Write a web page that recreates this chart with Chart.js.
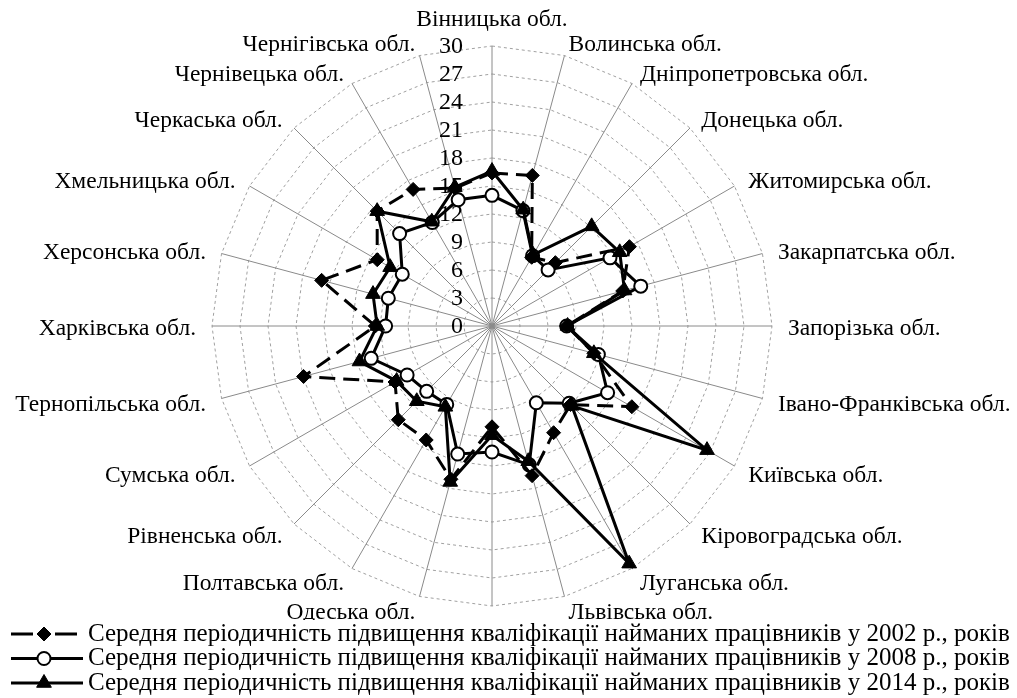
<!DOCTYPE html>
<html lang="uk">
<head>
<meta charset="utf-8">
<title>Середня періодичність підвищення кваліфікації найманих працівників</title>
<script src="https://cdn.jsdelivr.net/npm/chart.js@4.4.1/dist/chart.umd.min.js"></script>
<style>
    html, body { margin: 0; padding: 0; background: #ffffff; }
    #wrap { width: 1017px; height: 698px; position: relative; }
</style>
</head>
<body>
<div id="wrap"><canvas id="radarChart" width="1017" height="698"></canvas></div>
<script>
// Categories (clockwise from the top)
const regions = [
    'Вінницька обл.', 'Волинська обл.', 'Дніпропетровська обл.', 'Донецька обл.',
    'Житомирська обл.', 'Закарпатська обл.', 'Запорізька обл.', 'Івано-Франківська обл.',
    'Київська обл.', 'Кіровоградська обл.', 'Луганська обл.', 'Львівська обл.',
    'Миколаївська обл.', 'Одеська обл.', 'Полтавська обл.', 'Рівненська обл.',
    'Сумська обл.', 'Тернопільська обл.', 'Харківська обл.', 'Херсонська обл.',
    'Хмельницька обл.', 'Черкаська обл.', 'Чернівецька обл.', 'Чернігівська обл.'
];

const seriesNames = [
    'Середня періодичність підвищення кваліфікації найманих працівників у 2002 р., років',
    'Середня періодичність підвищення кваліфікації найманих працівників у 2008 р., років',
    'Середня періодичність підвищення кваліфікації найманих працівників у 2014 р., років'
];

const values2002 = [16.4, 16.7, 8.5, 9.6, 17.0, 14.5, 8.0, 11.3, 17.3, 11.9, 13.2, 16.6,
                    10.8, 17.0, 14.1, 14.2, 12.0, 20.9, 12.5, 18.9, 14.2, 17.4, 16.9, 15.3];
const values2008 = [14.0, 12.8, 8.7, 8.5, 14.6, 16.5, 8.0, 11.8, 14.3, 11.7, 9.5, 15.4,
                    13.5, 14.2, 9.7, 9.9, 10.5, 13.4, 11.4, 11.5, 11.1, 14.0, 12.8, 14.0];
const values2014 = [16.6, 12.9, 8.8, 15.1, 15.8, 14.7, 8.1, 11.3, 26.6, 12.1, 29.4, 15.0,
                    11.7, 17.3, 10.0, 11.4, 11.8, 14.7, 12.3, 13.2, 12.6, 17.4, 12.9, 15.4];

const tickValues = [0, 3, 6, 9, 12, 15, 18, 21, 24, 27, 30];

const serif = "'Liberation Serif', 'Times New Roman', serif";

// Value labels to the left of the vertical axis
const tickLabelPlugin = {
    id: 'tickLabels',
    beforeDatasetsDraw(chart) {
        const scale = chart.scales.r;
        const ctx = chart.ctx;
        ctx.save();
        ctx.font = '24px ' + serif;
        ctx.fillStyle = '#000000';
        ctx.textAlign = 'right';
        ctx.textBaseline = 'middle';
        tickValues.forEach(v => {
            const d = scale.getDistanceFromCenterForValue(v);
            ctx.fillText(String(v), scale.xCenter - 29, scale.yCenter - d + 1);
        });
        ctx.restore();
    }
};

// Region names round the outer ring
const regionLabelPlugin = {
    id: 'regionLabels',
    afterDatasetsDraw(chart) {
        const scale = chart.scales.r;
        const ctx = chart.ctx;
        const n = chart.data.labels.length;
        ctx.save();
        ctx.font = '23.5px ' + serif;
        ctx.fillStyle = '#000000';
        ctx.textBaseline = 'middle';
        chart.data.labels.forEach((label, i) => {
            const angle = 2 * Math.PI * i / n;
            const s = Math.sin(angle);
            const c = Math.cos(angle);
            const p = scale.getPointPosition(i, scale.drawingArea);
            let x = p.x + 16 * s;
            let y = p.y - 14 * c + 3;
            if (Math.abs(s) < 0.01) {
                ctx.textAlign = 'center';
                x = p.x;
                y = p.y - 28 * c + 2;
            } else {
                ctx.textAlign = s > 0 ? 'left' : 'right';
            }
            ctx.fillText(label, x, y);
        });
        ctx.restore();
    }
};

// Legend at the bottom: line sample with marker, then text
const legendPlugin = {
    id: 'bottomLegend',
    afterDraw(chart) {
        const ctx = chart.ctx;
        ctx.save();
        ctx.fillStyle = '#ffffff';
        ctx.fillRect(0, 620, chart.width, chart.height - 620);
        chart.data.datasets.forEach((ds, i) => {
            const y = 634 + i * 24.5;
            ctx.strokeStyle = '#000000';
            ctx.lineWidth = 3;
            ctx.setLineDash(ds.borderDash ? [22, 22] : []);
            ctx.beginPath();
            ctx.moveTo(11, y);
            ctx.lineTo(83, y);
            ctx.stroke();
            ctx.setLineDash([]);
            ctx.fillStyle = ds.pointBackgroundColor;
            ctx.strokeStyle = ds.pointBorderColor;
            ctx.lineWidth = ds.pointBorderWidth;
            Chart.helpers.drawPoint(ctx, {
                pointStyle: ds.pointStyle,
                radius: ds.pointRadius,
                borderWidth: ds.pointBorderWidth,
                rotation: 0
            }, 44, y);
            ctx.fillStyle = '#000000';
            ctx.font = '25px ' + serif;
            ctx.textAlign = 'left';
            ctx.textBaseline = 'middle';
            ctx.fillText(ds.label, 88, y);
        });
        ctx.restore();
    }
};

document.addEventListener('DOMContentLoaded', function() {
    const ctx = document.getElementById('radarChart').getContext('2d');
    const radarChart = new Chart(ctx, {
        type: 'radar',
        data: {
            labels: regions,
            datasets: [{
                label: seriesNames[0],
                data: values2002,
                borderColor: '#000000',
                borderWidth: 3,
                borderDash: [16, 8],
                fill: false,
                tension: 0,
                pointStyle: 'rectRot',
                pointRadius: 7,
                pointBackgroundColor: '#000000',
                pointBorderColor: '#000000',
                pointBorderWidth: 1,
                order: 1
            }, {
                label: seriesNames[1],
                data: values2008,
                borderColor: '#000000',
                borderWidth: 3,
                fill: false,
                tension: 0,
                pointStyle: 'circle',
                pointRadius: 6.5,
                pointBackgroundColor: '#ffffff',
                pointBorderColor: '#000000',
                pointBorderWidth: 2,
                order: 2
            }, {
                label: seriesNames[2],
                data: values2014,
                borderColor: '#000000',
                borderWidth: 3,
                fill: false,
                tension: 0,
                pointStyle: 'triangle',
                pointRadius: 8.5,
                pointBackgroundColor: '#000000',
                pointBorderColor: '#000000',
                pointBorderWidth: 1,
                order: 0
            }]
        },
        options: {
            responsive: false,
            animation: false,
            layout: {
                padding: { left: 212, right: 245, top: 46, bottom: 92 }
            },
            plugins: {
                legend: { display: false },
                tooltip: { enabled: false }
            },
            scales: {
                r: {
                    min: 0,
                    max: 30,
                    ticks: { stepSize: 3, display: false },
                    pointLabels: { display: false },
                    grid: {
                        circular: false,
                        color: '#a0a0a0',
                        lineWidth: 1
                    },
                    border: { dash: [3, 3] },
                    angleLines: {
                        color: '#8a8a8a',
                        lineWidth: 1
                    }
                }
            }
        },
        plugins: [tickLabelPlugin, regionLabelPlugin, legendPlugin]
    });
});
</script>
</body>
</html>
